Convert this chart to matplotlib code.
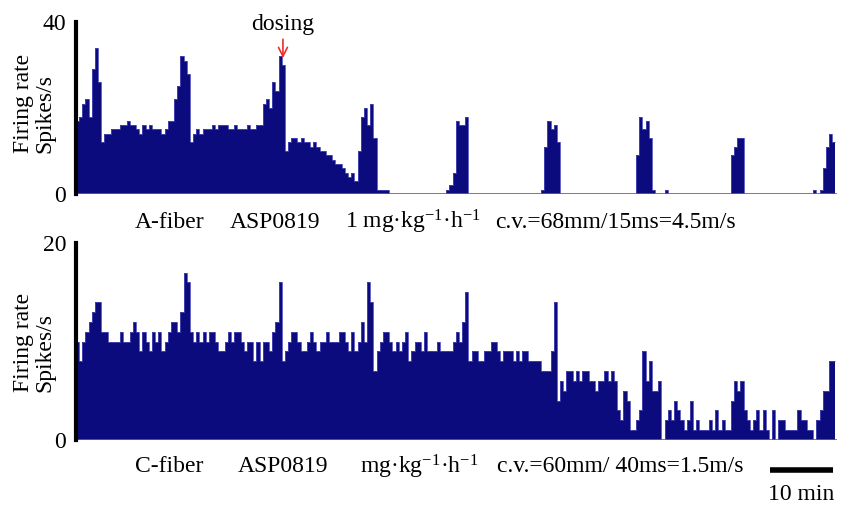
import numpy as np
import matplotlib.pyplot as plt

plt.rcParams['font.family'] = ['Liberation Serif', 'DejaVu Serif']
plt.rcParams['mathtext.default'] = 'regular'

# firing rate histograms, 0.5 min bins, spikes/s
bin_min = 0.5
a_rate = [
    17, 18, 21, 22, 18, 29, 34, 26, 12, 14, 14, 15, 15, 15, 16, 16, 17, 16, 16, 15,
    14, 16, 15, 16, 15, 15, 15, 14, 15, 17, 17, 22, 25, 32, 31, 28, 12, 14, 15, 14,
    15, 15, 15, 16, 15, 16, 16, 16, 15, 15, 16, 15, 15, 15, 16, 15, 15, 16, 16, 21,
    22, 20, 26, 24, 32, 30, 10, 12, 13, 13, 12, 13, 12, 12, 11, 12, 11, 10, 10, 9,
    9, 8, 7, 7, 6, 5, 4, 5, 3, 10, 18, 20, 16, 21, 13, 1, 1, 1, 1, 0,
    0, 0, 0, 0, 0, 0, 0, 0, 0, 0, 0, 0, 0, 0, 0, 0, 0, 1, 2, 5,
    17, 16, 16, 18, 0, 0, 0, 0, 0, 0, 0, 0, 0, 0, 0, 0, 0, 0, 0, 0,
    0, 0, 0, 0, 0, 0, 0, 1, 11, 17, 15, 16, 12, 0, 0, 0, 0, 0, 0, 0,
    0, 0, 0, 0, 0, 0, 0, 0, 0, 0, 0, 0, 0, 0, 0, 0, 0, 9, 18, 15,
    17, 13, 1, 0, 0, 0, 1, 0, 0, 0, 0, 0, 0, 0, 0, 0, 0, 0, 0, 0,
    0, 0, 0, 0, 0, 0, 0, 9, 11, 13, 13, 0, 0, 0, 0, 0, 0, 0, 0, 0,
    0, 0, 0, 0, 0, 0, 0, 0, 0, 0, 0, 0, 0, 1, 0, 1, 6, 11, 14, 12,
]
c_rate = [
    10, 8, 10, 11, 12, 13, 14, 14, 11, 11, 10, 10, 10, 10, 11, 10, 10, 11, 12, 11,
    9, 11, 10, 9, 11, 10, 11, 9, 10, 11, 12, 12, 11, 13, 17, 16, 11, 10, 11, 10,
    11, 10, 11, 11, 10, 9, 9, 10, 11, 10, 11, 11, 10, 9, 10, 10, 8, 10, 8, 10,
    10, 9, 11, 12, 16, 8, 9, 10, 11, 11, 10, 9, 9, 10, 11, 10, 9, 10, 10, 11,
    10, 10, 10, 11, 11, 10, 9, 11, 9, 10, 12, 10, 16, 14, 7, 9, 10, 11, 11, 10,
    9, 10, 9, 10, 11, 8, 9, 10, 10, 9, 11, 9, 9, 9, 10, 9, 9, 9, 9, 10,
    11, 10, 12, 15, 8, 9, 9, 8, 8, 9, 9, 10, 10, 9, 8, 9, 9, 9, 8, 9,
    8, 9, 9, 8, 8, 8, 8, 7, 7, 7, 9, 14, 4, 6, 5, 7, 7, 6, 7, 6,
    7, 7, 6, 6, 5, 6, 6, 7, 6, 7, 6, 3, 2, 5, 4, 1, 1, 2, 3, 9,
    6, 8, 5, 5, 6, 0, 2, 3, 2, 4, 3, 2, 1, 2, 4, 1, 2, 1, 1, 1,
    2, 1, 3, 1, 2, 1, 1, 4, 6, 5, 6, 3, 2, 1, 2, 3, 1, 3, 1, 0,
    3, 0, 2, 2, 1, 1, 1, 1, 3, 2, 2, 1, 1, 0, 2, 3, 5, 5, 8, 8,
]
a_ylim = [0, 40]
c_ylim = [0, 20]
dosing_time = 32.7
scale_start = 109.6
scale_len = 10

a_text = ['A-fiber', 'ASP0819', '1 mg·kg$^{-1}$·h$^{-1}$', 'c.v.=68mm/15ms=4.5m/s']
c_text = ['C-fiber', 'ASP0819', 'mg·kg$^{-1}$·h$^{-1}$', 'c.v.=60mm/ 40ms=1.5m/s']

navy = '#0b0b7d'
W, H = 850, 508


def fx(x):
    return x / W


def fy(y):
    return 1 - y / H


fig = plt.figure(figsize=(8.5, 5.08), dpi=100)
ax1 = fig.add_axes([fx(76), fy(194), 761 / W, 172 / H])
ax2 = fig.add_axes([fx(76), fy(440), 761 / W, 197 / H])

for ax, rate, ylim in [(ax1, a_rate, a_ylim), (ax2, c_rate, c_ylim)]:
    edges = np.arange(len(rate) + 1) * bin_min
    ax.stairs(rate, edges, fill=True, color=navy, lw=0)
    # lighter outline on the bar tops, like the scanned trace
    ax.stairs(rate, edges, color='#4a4ab8', lw=0.6, baseline=None)
    ax.axhline(0, color='#5a5ac6', lw=1.2, zorder=1)
    ax.set_xlim(0, 120.25)
    ax.set_ylim(ylim)
    ax.set_xticks([])
    ax.set_yticks(ylim)
    ax.tick_params(axis='y', length=0, pad=7, labelsize=17)
    for s in ['top', 'right', 'bottom']:
        ax.spines[s].set_visible(False)
    ax.spines['left'].set_linewidth(3)
    ax.spines['left'].set_color('black')

# y labels
fig.text(fx(34), fy(103), 'Firing rate\nSpikes/s', rotation=90, ha='center', va='center',
         multialignment='left', fontsize=17, linespacing=1.05)
fig.text(fx(34), fy(342), 'Firing rate\nSpikes/s', rotation=90, ha='center', va='center',
         multialignment='left', fontsize=17, linespacing=1.05)

# dosing marker
ax1.annotate('dosing', xy=(dosing_time, 31.6), xytext=(dosing_time, 39.4),
             ha='center', va='center', fontsize=17,
             arrowprops=dict(arrowstyle='->', color='#e8302c', lw=1.2, shrinkA=1, shrinkB=0,
                             mutation_scale=16))

# condition labels
for txt, x in zip(a_text, [135, 230, 345, 495]):
    fig.text(fx(x), fy(222), txt, ha='left', va='center', fontsize=17)
for txt, x in zip(c_text, [135, 238, 360, 497]):
    fig.text(fx(x), fy(467), txt, ha='left', va='center', fontsize=17)

# scale bar
tr = ax2.get_xaxis_transform()
ax2.plot([scale_start, scale_start + scale_len], [-0.152, -0.152], color='black', lw=4,
         transform=tr, clip_on=False, solid_capstyle='butt')
ax2.text(scale_start + scale_len / 2, -0.279, '10 min', transform=tr, ha='center', va='center',
         fontsize=17)

fig.savefig('out.png', dpi=100)
